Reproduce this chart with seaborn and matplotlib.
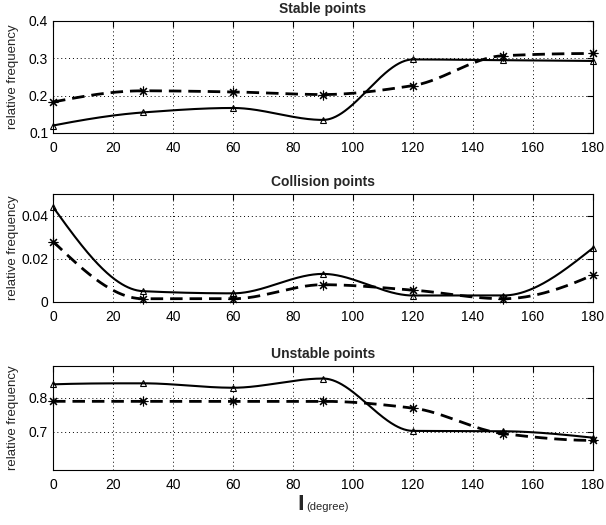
import numpy as np
import pandas as pd
import matplotlib
matplotlib.use('Agg')
import matplotlib.pyplot as plt
import seaborn as sns

# %% data (angle in degrees)
angle = [0, 30, 60, 90, 120, 150, 180]

stable_tri = [0.120, 0.155, 0.167, 0.135, 0.297, 0.295, 0.293]
stable_ast = [0.183, 0.213, 0.210, 0.203, 0.227, 0.307, 0.313]

collision_tri = [0.044, 0.005, 0.004, 0.013, 0.003, 0.003, 0.025]
collision_ast = [0.028, 0.0015, 0.0015, 0.008, 0.0055, 0.0015, 0.0125]

unstable_tri = [0.840, 0.843, 0.830, 0.857, 0.703, 0.702, 0.683]
unstable_ast = [0.790, 0.790, 0.790, 0.790, 0.770, 0.695, 0.675]

titles = ['Stable points', 'Collision points', 'Unstable points']
ylims = [(0.1, 0.4), (0, 0.05), (0.588, 0.894)]
yticks = [[0.1, 0.2, 0.3, 0.4], [0, 0.02, 0.04], [0.7, 0.8]]
yticklabels = [['0.1', '0.2', '0.3', '0.4'], ['0', '0.02', '0.04'], ['0.7', '0.8']]
xticks = [0, 20, 40, 60, 80, 100, 120, 140, 160, 180]


def pchip(x, y, xs):
    # shape preserving cubic, only used to draw the smooth line through the points
    x = np.asarray(x, float)
    y = np.asarray(y, float)
    h = np.diff(x)
    d = np.diff(y) / h
    n = len(x)
    m = np.zeros(n)
    for k in range(1, n - 1):
        if d[k - 1] * d[k] > 0:
            w1 = 2 * h[k] + h[k - 1]
            w2 = h[k] + 2 * h[k - 1]
            m[k] = (w1 + w2) / (w1 / d[k - 1] + w2 / d[k])
    def end(h0, h1, d0, d1):
        s = ((2 * h0 + h1) * d0 - h0 * d1) / (h0 + h1)
        if np.sign(s) != np.sign(d0):
            s = 0
        elif np.sign(d0) != np.sign(d1) and abs(s) > abs(3 * d0):
            s = 3 * d0
        return s
    m[0] = end(h[0], h[1], d[0], d[1])
    m[-1] = end(h[-1], h[-2], d[-1], d[-2])
    idx = np.clip(np.searchsorted(x, xs) - 1, 0, n - 2)
    t = (xs - x[idx]) / h[idx]
    h00 = 2 * t**3 - 3 * t**2 + 1
    h10 = t**3 - 2 * t**2 + t
    h01 = -2 * t**3 + 3 * t**2
    h11 = t**3 - t**2
    return h00 * y[idx] + h10 * h[idx] * m[idx] + h01 * y[idx + 1] + h11 * h[idx] * m[idx + 1]


sns.set_style('white')
plt.rcParams['font.family'] = ['Liberation Sans', 'DejaVu Sans']

fig = plt.figure(figsize=(6.06, 5.25), dpi=100)
boxes = [[0.0875, 0.7467, 0.891, 0.2133],
         [0.0875, 0.4248, 0.891, 0.2057],
         [0.0875, 0.1048, 0.891, 0.1981]]

series = [(stable_tri, stable_ast), (collision_tri, collision_ast), (unstable_tri, unstable_ast)]
xs = np.linspace(0, 180, 721)
asterisk = (8, 2, 0)

for i, (tri, ast) in enumerate(series):
    ax = fig.add_axes(boxes[i])
    smooth = pd.DataFrame({'x': xs, 'tri': pchip(angle, tri, xs), 'ast': pchip(angle, ast, xs)})
    pts = pd.DataFrame({'x': angle, 'tri': tri, 'ast': ast})

    sns.lineplot(data=smooth, x='x', y='tri', ax=ax, color='black', lw=1.5)
    sns.lineplot(data=smooth, x='x', y='ast', ax=ax, color='black', lw=2.0,
                 linestyle=(0, (4.5, 2.5)))
    ax.plot(pts.x, pts.tri, ls='none', marker='^', ms=5, mfc='none', mec='black', mew=0.8,
            clip_on=False)
    ax.plot(pts.x, pts.ast, ls='none', marker=asterisk, ms=7, mec='black', mew=0.8,
            clip_on=False)

    ax.set_xlim(0, 180)
    ax.set_ylim(*ylims[i])
    ax.set_xticks(xticks)
    ax.set_xticklabels([str(t) for t in xticks], fontsize=10)
    ax.set_yticks(yticks[i])
    ax.set_yticklabels(yticklabels[i], fontsize=10)
    ax.grid(True, color='black', linestyle=(0, (1, 3)), linewidth=0.7)
    ax.tick_params(axis='x', pad=6)
    ax.tick_params(direction='in', length=4, width=0.8, top=True, right=True,
                   colors='black')
    for sp in ax.spines.values():
        sp.set_color('black')
        sp.set_linewidth(0.8)
    ax.set_xlabel('')
    ax.set_ylabel('relative frequency', fontsize=9.5)
    ax.yaxis.set_label_coords(-0.063, 0.5)
    ax.set_title(titles[i], fontsize=10, fontweight='bold', pad=6)

fig.text(0.497, 0.028, 'l', fontsize=14, fontweight='bold', ha='center', va='baseline',
         family='DejaVu Sans')
fig.text(0.506, 0.028, '(degree)', fontsize=8, ha='left', va='baseline')

fig.savefig('out.png', dpi=100)
